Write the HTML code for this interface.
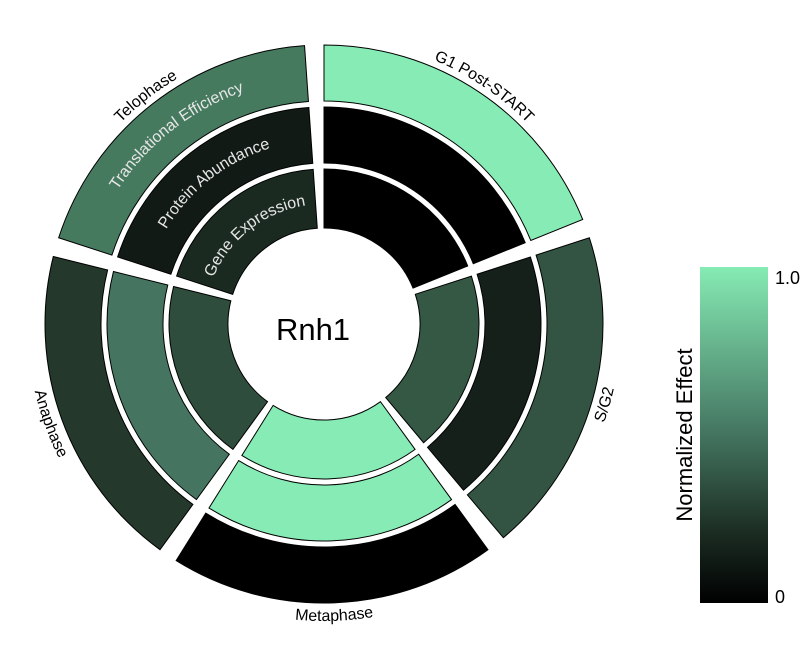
<!DOCTYPE html>
<html><head><meta charset="utf-8"><style>
html,body{margin:0;padding:0;background:#fff;}
svg{display:block;font-family:"Liberation Sans",sans-serif;}
</style></head><body>
<svg id="s" width="800" height="650" viewBox="0 0 800 650">
<defs>
<linearGradient id="lg" x1="0" y1="0" x2="0" y2="1">
<stop offset="0" stop-color="#86ebb4"/>
<stop offset="0.5" stop-color="#437460"/>
<stop offset="0.8" stop-color="#1a2a21"/>
<stop offset="1" stop-color="#000"/>
</linearGradient>
<path id="p0"/><path id="p1"/><path id="p2"/><path id="p3"/><path id="p4"/>
<path id="t0"/><path id="t1"/><path id="t2"/>
</defs>
<g id="segs"></g>
<text x="313" y="340" font-size="31" text-anchor="middle" fill="#000">Rnh1</text>
<g font-size="16" fill="#000">
<text><textPath href="#p0" startOffset="50%" text-anchor="middle">G1 Post-START</textPath></text>
<text><textPath href="#p1" startOffset="50%" text-anchor="middle">S/G2</textPath></text>
<text><textPath href="#p2" startOffset="50%" text-anchor="middle">Metaphase</textPath></text>
<text><textPath href="#p3" startOffset="50%" text-anchor="middle">Anaphase</textPath></text>
<text><textPath href="#p4" startOffset="50%" text-anchor="middle">Telophase</textPath></text>
</g>
<g font-size="16" fill="#e6e6e6">
<text><textPath href="#t0" startOffset="50%" text-anchor="middle">Gene Expression</textPath></text>
<text><textPath href="#t1" startOffset="50%" text-anchor="middle">Protein Abundance</textPath></text>
<text><textPath href="#t2" startOffset="50%" text-anchor="middle">Translational Efficiency</textPath></text>
</g>
<rect x="700" y="267" width="68" height="336" fill="url(#lg)"/>
<text x="775" y="284" font-size="18" fill="#000">1.0</text>
<text x="775" y="603" font-size="18" fill="#000">0</text>
<text transform="translate(692,435) rotate(-90)" font-size="22" text-anchor="middle" fill="#000">Normalized Effect</text>
</svg>
<script>
var cx=324,cy=324,ga=2;
function pt(r,a){a=a*Math.PI/180;return [cx+r*Math.sin(a),cy-r*Math.cos(a)];}
function seg(r0,r1,a0,a1){
 var A=pt(r1,a0+ga),B=pt(r1,a1-ga),C=pt(r0,a1-ga),D=pt(r0,a0+ga);
 return "M"+A+" A"+r1+","+r1+" 0 0 1 "+B+" L"+C+" A"+r0+","+r0+" 0 0 0 "+D+"Z";
}
var gaps=[-2,70,142,214,286,358];
var rings=[[96,155],[161,217],[223,279]];
var cols=[
 ["#000000","#000000","#86ebb4"],
 ["#345844","#16201a","#335443"],
 ["#86ebb4","#86ebb4","#000000"],
 ["#2f4d3c","#457560","#24382c"],
 ["#1b2a21","#121a15","#467a5f"]];
var h="";
for(var i=0;i<5;i++)for(var j=0;j<3;j++)
 h+='<path d="'+seg(rings[j][0],rings[j][1],gaps[i],gaps[i+1])+'" fill="'+cols[i][j]+'" stroke="#000" stroke-width="1"/>';
document.getElementById("segs").innerHTML=h;
function arc(r,c,cw){
 if(cw){var A=pt(r,c-80),B=pt(r,c+80);return "M"+A+" A"+r+","+r+" 0 0 1 "+B;}
 var A=pt(r,c+80),B=pt(r,c-80);return "M"+A+" A"+r+","+r+" 0 0 0 "+B;
}
var cs=[34,106,178,250,322];
for(var i=0;i<5;i++){
 var cw=(i==0||i==4);
 document.getElementById("p"+i).setAttribute("d",arc(cw?286:297,cs[i],cw));
}
document.getElementById("t0").setAttribute("d",arc(120,322,true));
document.getElementById("t1").setAttribute("d",arc(184,322,true));
document.getElementById("t2").setAttribute("d",arc(246,322,true));
</script>
</body></html>
